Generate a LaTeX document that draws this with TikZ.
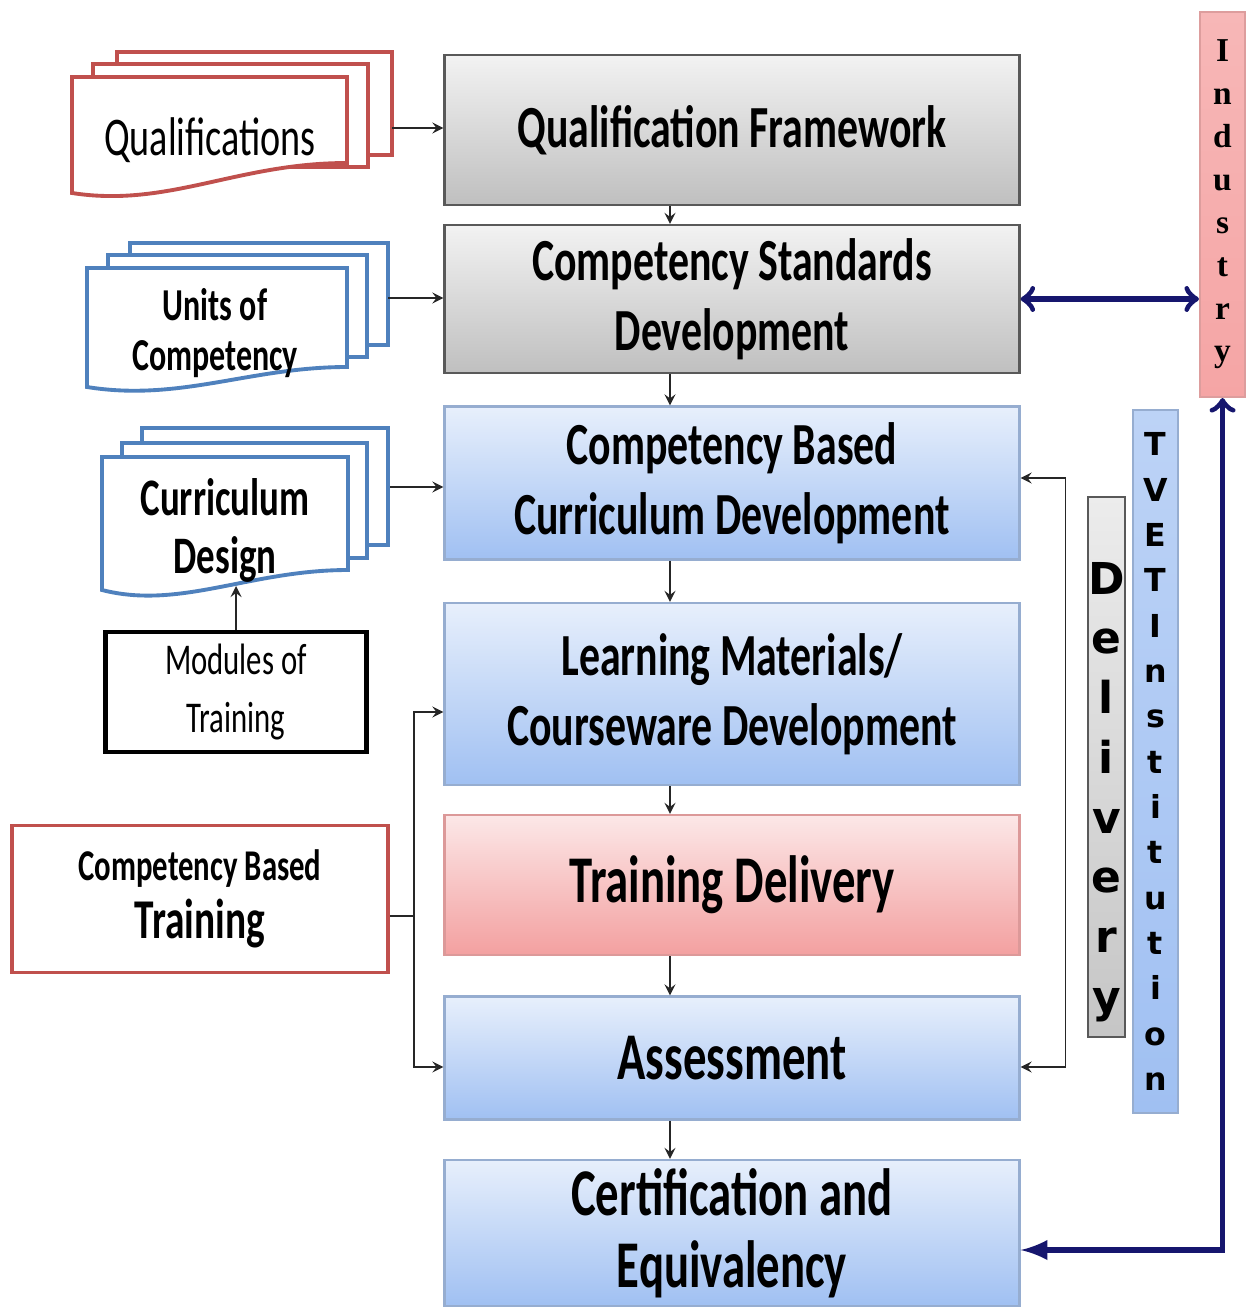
\documentclass[tikz,border=0pt]{standalone}
\usepackage{fontspec}
\setmainfont{Carlito}[FakeStretch=0.7]
\newfontfamily\industryfont{Liberation Serif}
\newfontfamily\columnfont{DejaVu Sans}
\usetikzlibrary{arrows, shapes, positioning, calc}

\definecolor{docred}{RGB}{192,80,77}
\definecolor{docblue}{RGB}{79,129,189}
\definecolor{navyline}{RGB}{22,22,110}
\definecolor{stageblue}{RGB}{160,192,242}
\definecolor{stagepink}{RGB}{243,160,160}
\definecolor{industrypink}{RGB}{245,165,165}

\begin{document}
\begin{tikzpicture}[>=stealth, x=0.1mm, y=-0.1mm,
    stage/.style={line width=0.6pt, minimum width=57.5mm, inner sep=0pt, align=center,
                  font=\bfseries\fontsize{17}{20}\selectfont},
    bigstage/.style={font=\bfseries\fontsize{19}{20.5}\selectfont},
    greystage/.style={stage, draw=gray!70!black, top color=gray!10, bottom color=gray!50},
    bluestage/.style={stage, draw=stageblue!70!gray, top color=stageblue!25, bottom color=stageblue},
    pinkstage/.style={stage, draw=stagepink!80!gray, top color=stagepink!25, bottom color=stagepink},
    redpage/.style={draw=docred, line width=1.1pt, fill=white},
    bluepage/.style={draw=docblue, line width=1.1pt, fill=white},
    flow/.style={->, thin, black!85},
    link/.style={navyline, line width=1.6pt},
    column/.style={inner sep=0pt, align=center}]
\useasboundingbox (0,0) rectangle (1250,1307);
\fill[white] (0,0) rectangle (1250,1307);

% stages
\node[greystage, minimum height=15mm] (qf) at (732,130) {Qualification Framework};
\node[greystage, minimum height=14.8mm] (csd) at (732,299) {Competency Standards\\Development};
\node[bluestage, minimum height=15.3mm] (cbcd) at (732,483) {Competency Based\\Curriculum Development};
\node[bluestage, minimum height=18.2mm] (lm) at (732,694) {Learning Materials/\\Courseware Development};
\node[pinkstage, bigstage, minimum height=14mm] (td) at (732,885) {Training Delivery};
\node[bluestage, bigstage, minimum height=12.3mm] (as) at (732,1058) {Assessment};
\node[bluestage, bigstage, minimum height=14.6mm] (ce) at (732,1233) {Certification and\\Equivalency};

\foreach \a/\b in {qf/csd, csd/cbcd, cbcd/lm, lm/td, td/as, as/ce}
  \draw[flow] ([xshift=-6.2mm]\a.south) -- ([xshift=-6.2mm]\b.north);

% document stacks
\draw[redpage] (117,52) rectangle (392,155);
\draw[redpage] (93,64) rectangle (368,167);
\draw[redpage] (72,77) -- (347,77) -- (347,163) .. controls (237,163) and (168,208) .. (72,193) -- cycle;
\node[font=\fontsize{15.5}{18}\selectfont] (qual) at (210,140) {Qualifications};
\coordinate (qualout) at (392,128);

\draw[bluepage] (130,243) rectangle (388,345);
\draw[bluepage] (108,255) rectangle (367,357);
\draw[bluepage] (87,268) -- (347,268) -- (347,367) .. controls (250,367) and (180,402) .. (87,387) -- cycle;
\node[align=center, font=\bfseries\fontsize{13}{14.2}\selectfont] (units) at (215,333) {Units of\\Competency};
\coordinate (unitsout) at (388,298);

\draw[bluepage] (142,428) rectangle (388,545);
\draw[bluepage] (122,443) rectangle (367,558);
\draw[bluepage] (102,457) -- (348,457) -- (348,570) .. controls (250,570) and (180,610) .. (102,590) -- cycle;
\node[align=center, font=\bfseries\fontsize{15}{16.5}\selectfont] (curr) at (225,530) {Curriculum\\Design};
\coordinate (currout) at (390,487);
\coordinate (currbase) at (236,586);

\node[draw=black, line width=1.2pt, minimum width=26.1mm, minimum height=11.5mm, align=center,
      font=\fontsize{12.5}{16.7}\selectfont] (modules) at (236,692) {Modules of\\Training};
\node[draw=docred, line width=1.1pt, minimum width=37.6mm, minimum height=14.7mm, align=center,
      font=\bfseries\fontsize{16}{16.5}\selectfont] (cbt) at (200,899)
      {{\fontsize{12.5}{14}\selectfont Competency Based}\\Training};

\draw[flow] (qualout) -- (qualout -| qf.west);
\draw[flow] (unitsout) -- (unitsout -| csd.west);
\draw[flow] (currout) -- (currout -| cbcd.west);
\draw[flow] (modules.north) -- (currbase);
\draw[thin, black!85] ([yshift=-1.7mm]cbt.east) -- ++(2.4mm,0) coordinate (cbtjoin);
\draw[flow] (cbtjoin) |- ([yshift=-1.8mm]lm.west);
\draw[flow] (cbtjoin) |- ([yshift=-0.9mm]as.west);
\draw[<->, thin, black!85] ([yshift=-0.9mm]as.east) -- ++(4.5mm,0) |- ([yshift=0.5mm]cbcd.east);

% side columns
\node[column, draw=gray!70!black, line width=0.6pt, minimum width=3.7mm, minimum height=54mm,
      top color=gray!15, bottom color=gray!45] (delivery) at (1106.5,767) {};
\node[column, font=\columnfont\bfseries\fontsize{12.5}{17}\selectfont] (deliverytext)
      at ([yshift=-2.5mm]delivery.center) {D\\e\\l\\i\\v\\e\\r\\y};
\node[column, draw=stageblue!70!gray, line width=0.6pt, minimum width=4.5mm, minimum height=70.3mm,
      top color=stageblue!70, bottom color=stageblue,
      font=\columnfont\bfseries\fontsize{9}{12.9}\selectfont] (tvet) at (1155.5,761.5)
      {T\\V\\E\\T\\I\\n\\s\\t\\i\\t\\u\\t\\i\\o\\n};
\node[column, draw=industrypink!80!gray, line width=0.6pt, minimum width=4.5mm, minimum height=38.5mm,
      top color=industrypink!80, bottom color=industrypink,
      font=\industryfont\bfseries\fontsize{9.5}{12.2}\selectfont] (industry) at (1222.5,204.5)
      {I\\n\\d\\u\\s\\t\\r\\y};

\draw[link, to-to] (csd.east) -- (industry.west |- csd.east);
\draw[link, latex-to] ([yshift=-1.7mm]ce.east) -| (industry.south);
\end{tikzpicture}
\end{document}
